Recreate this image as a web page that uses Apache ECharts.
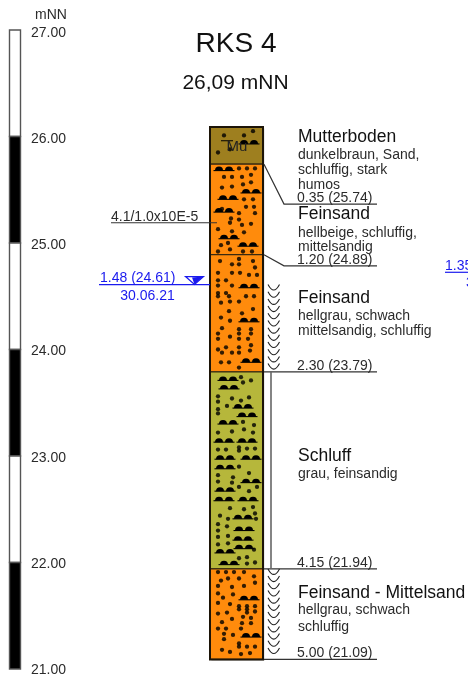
<!DOCTYPE html>
<html><head><meta charset="utf-8">
<style>html,body{margin:0;padding:0;background:#fff}#c{width:468px;height:677px}</style>
<script src="https://cdn.jsdelivr.net/npm/echarts@6/dist/echarts.min.js"></script>
</head><body><div id="c"></div>
<script>
// ---- data ----
const tickMin = 21, tickMax = 27;
const scaleBands = [[27,26,0],[26,25,1],[25,24,0],[24,23,1],[23,22,0],[22,21,1]];
const groundElev = 26.09;
const layerDepths = [0.35,1.20,2.30,4.15,5.00];
const layerElevs = [25.74,24.89,23.79,21.94,21.09];
const layerKinds = ['Mu','S','S','U','S'];
const layerNames = ['Mutterboden','Feinsand','Feinsand','Schluff','Feinsand - Mittelsand'];
const layerDescs = [
 ['dunkelbraun, Sand,','schluffig, stark','humos'],
 ['hellbeige, schluffig,','mittelsandig'],
 ['hellgrau, schwach','mittelsandig, schluffig'],
 ['grau, feinsandig'],
 ['hellgrau, schwach','schluffig']];
const leaderElevs = [25.365,24.785,23.79,21.94,21.09];
const moistZones = [[24.61,23.80],[21.94,21.13]];
const shaftZone = [23.79,21.94];
const waterDepths = ['1.48','1.35'];
const waterElevs = [24.61,24.74];
const waterLineElevs = [24.61,24.725];
const waterDates = ['30.06.21','30.06.21'];
const kfLabel = ['4.1/1.0x10E-5'];
const kfElev = [25.19];
// grain dots: [elevation, [offsets across the column]]
const dotRows = [
[26.05,[43]],[26.01,[14,34]],[25.88,[20]],[25.85,[8]],
[25.70,[29,37,45]],[25.64,[41]],[25.62,[14,22,32]],[25.57,[41]],[25.55,[33]],[25.53,[22]],[25.52,[12]],
[25.41,[34,43]],[25.34,[36,44]],[25.32,[12]],[25.28,[29,45]],[25.23,[21]],[25.22,[29]],[25.19,[20]],[25.18,[41]],[25.17,[32]],
[25.13,[8]],[25.11,[22]],[25.10,[34]],[25.00,[18]],[24.98,[11]],[24.94,[20]],[24.92,[8,33,42]],
[24.85,[29]],[24.83,[10,43]],[24.80,[22,29]],[24.77,[45]],[24.72,[8,22,30]],[24.70,[39,47]],[24.65,[8,16]],[24.60,[8,22]],
[24.53,[8,16]],[24.50,[8,19,36,44]],[24.45,[20,29]],[24.44,[11]],[24.38,[43]],[24.36,[19]],[24.34,[32]],[24.30,[11]],[24.27,[20]],
[24.20,[12]],[24.19,[29,41]],[24.15,[8,29,41]],[24.12,[20]],[24.10,[8,29,38]],[24.04,[41]],[24.02,[16,29]],[24.00,[8]],[23.99,[40]],
[23.97,[12,22,29]],[23.88,[11,19]],[23.83,[29]],
[23.74,[31]],[23.71,[41]],[23.69,[33]],[23.56,[8]],[23.55,[39]],[23.54,[22]],[23.52,[31]],[23.51,[8]],[23.47,[17]],[23.44,[8]],[23.40,[8]],
[23.32,[33]],[23.29,[44]],[23.25,[34]],[23.23,[22]],[23.22,[8,43]],[23.08,[29]],[23.07,[37,45]],[23.06,[8,16]],[23.05,[29]],
[22.90,[29]],[22.84,[39]],[22.82,[8]],[22.80,[23]],[22.76,[8]],[22.75,[22]],[22.71,[29,47]],[22.67,[39]],
[22.52,[43]],[22.51,[20]],[22.50,[34]],[22.46,[45]],[22.44,[10]],[22.41,[18,46]],[22.36,[8]],[22.34,[17]],[22.30,[8]],
[22.25,[18]],[22.24,[8]],[22.18,[18]],[22.17,[8]],[22.12,[44]],[22.05,[37]],[22.04,[29]],[22.00,[45]],[21.99,[37]],
[21.91,[8,16,24,34]],[21.87,[44]],[21.85,[18,29]],[21.83,[11]],[21.81,[45]],[21.78,[8,34]],[21.77,[22]],[21.71,[8]],[21.70,[23]],[21.67,[13]],
[21.62,[8]],[21.61,[20]],[21.59,[29,37,45]],[21.56,[29,37]],[21.54,[45]],[21.53,[17,37]],[21.52,[8]],[21.49,[33]],[21.48,[41]],[21.47,[22]],
[21.44,[12]],[21.43,[32,41]],[21.38,[8,16,31]],[21.33,[14]],[21.32,[23]],[21.28,[14]],[21.24,[29]],[21.21,[29,37,45]],[21.18,[12]],[21.16,[20]],[21.15,[40]],[21.14,[31]]
];
// silt mounds: [offset across the column, elevation]
const mounds = [
[39,25.93],[14,25.68],[41,25.47],[18,25.41],[14,25.29],[19,25.04],[38,24.97],
[39,24.58],[39,24.26],[41,23.88],
[18,23.71],[19,23.63],[33,23.45],[37,23.37],[18,23.30],[37,23.13],[14,23.13],[15,22.97],[41,22.97],[15,22.88],
[41,22.75],[15,22.67],[14,22.58],[38,22.58],[33,22.41],[34,22.30],[33,22.21],[34,22.13],[15,22.09],[19,21.98],
[39,21.65],[41,21.30]];
const bareLines = [[17,25.96]];

// ---- style and layout ----
const FONT = '"Liberation Sans", Arial, sans-serif';
const TOP = 30, PLOT_H = 639;
const COL_W = 53, COL_L = 210;
const fill = {Mu:'#9E7F1F', S:'#FF8B0C', U:'#B6B73B'};
const INK = '#2b2b2b', BLUE = '#1a1aee';
const LEADER_X0 = 264, LEADER_X1 = 284, LABEL_X = 298, LINE_END = 377;
const SMALL = 14;
const titleYs = [137,214,298,456,593];
const descYs = [[155,170,185],[233,247],[316,331],[474],[610,627]];

const dots = [];
dotRows.forEach(r => r[1].forEach(x => dots.push([x, r[0]])));
const layerRows = layerElevs.map((e,i)=>[i===0?groundElev:layerElevs[i-1], e, layerKinds[i]]);

const yAxisBase = {type:'value', min:tickMin, max:tickMax, interval:1, show:false};
const xBase = {type:'value', show:false};

const textEls = [];
const addText = (text,x,y,size,extra) => textEls.push({type:'text',silent:true,x,y,z:50,
  style:Object.assign({text,fontFamily:FONT,fontSize:size,fill:INK,textAlign:'left',verticalAlign:'middle'},extra||{})});
addText('mNN',35,15,SMALL);
layerNames.forEach((n,i)=>{
  addText(n,LABEL_X,titleYs[i],17.5,{fill:'#111'});
  layerDescs[i].forEach((d,j)=>addText(d,LABEL_X,descYs[i][j],SMALL));
});
addText('Mu',237,147,15,{textAlign:'center',fill:'#222'});

const chart = echarts.init(document.getElementById('c'),null,{renderer:'canvas'});
chart.setOption({
 animation:false,
 backgroundColor:'#fff',
 title:[
  {text:'RKS 4',left:236,textAlign:'center',top:30,textStyle:{fontFamily:FONT,fontSize:28,fontWeight:'normal',color:'#111'},padding:0},
  {text:'26,09 mNN',left:235.5,textAlign:'center',top:73,textStyle:{fontFamily:FONT,fontSize:21,fontWeight:'normal',color:'#111'},padding:0}
 ],
 grid:[
  {left:9.5,width:11,top:TOP,height:PLOT_H},
  {left:COL_L,width:COL_W,top:TOP,height:PLOT_H},
  {left:0,width:468,top:TOP,height:PLOT_H},
  {left:9.5,width:11,top:TOP+3,height:PLOT_H}
 ],
 xAxis:[
  Object.assign({gridIndex:0,min:0,max:1},xBase),
  Object.assign({gridIndex:1,min:0,max:COL_W},xBase),
  Object.assign({gridIndex:2,min:0,max:468},xBase),
  Object.assign({gridIndex:3,min:0,max:1},xBase)
 ],
 yAxis:[
  Object.assign({gridIndex:0},yAxisBase),
  Object.assign({gridIndex:1},yAxisBase),
  Object.assign({gridIndex:2},yAxisBase),
  {gridIndex:3,type:'value',position:'right',min:tickMin,max:tickMax,interval:1,
   axisLine:{show:false},axisTick:{show:false},splitLine:{show:false},
   axisLabel:{show:true,margin:10.5,formatter:v=>v.toFixed(2),color:INK,fontFamily:FONT,fontSize:SMALL,align:'left'}}
 ],
 graphic:{elements:textEls},
 series:[
  // depth scale bar
  {type:'custom',xAxisIndex:0,yAxisIndex:0,clip:false,z:2,data:scaleBands,
   encode:{y:[0,1]},
   renderItem(p,api){
    const a=api.coord([0,api.value(0)]),b=api.coord([1,api.value(1)]);
    return {type:'rect',shape:{x:a[0],y:a[1],width:b[0]-a[0],height:b[1]-a[1]},
      style:{fill:api.value(2)?'#000':'#fff',stroke:'#555',lineWidth:1.4}};
   }},
  // soil layers
  {type:'custom',xAxisIndex:1,yAxisIndex:1,clip:false,z:3,data:layerRows,
   dimensions:['top','bottom','kind'],encode:{y:[0,1]},
   renderItem(p,api){
    const i=p.dataIndex, a=api.coord([0,layerRows[i][0]]),b=api.coord([COL_W,layerRows[i][1]]);
    return {type:'group',children:[
      {type:'rect',z2:0,shape:{x:a[0]+1.5,y:a[1]+1.5,width:b[0]-a[0],height:b[1]-a[1]},style:{fill:'#d8d8d8'}},
      {type:'rect',z2:1,shape:{x:a[0],y:a[1],width:b[0]-a[0],height:b[1]-a[1]},
       style:{fill:fill[layerRows[i][2]],stroke:'#3a2a10',lineWidth:1.2}}]};
   }},
  // grain dots
  {type:'scatter',xAxisIndex:1,yAxisIndex:1,clip:false,z:4,data:dots,symbol:'circle',symbolSize:4.3,itemStyle:{color:'#000'}},
  // silt mounds
  {type:'custom',xAxisIndex:1,yAxisIndex:1,clip:false,z:4,data:mounds,encode:{x:0,y:1},
   renderItem(p,api){
    const c=api.coord([api.value(0),api.value(1)]);
    const bump=dx=>({type:'sector',shape:{cx:c[0]+dx,cy:c[1],r:4,r0:0,startAngle:Math.PI,endAngle:2*Math.PI,clockwise:true},style:{fill:'#000'}});
    return {type:'group',children:[
      {type:'line',shape:{x1:c[0]-10.5,y1:c[1],x2:c[0]+10.5,y2:c[1]},style:{stroke:'#000',lineWidth:1.1}},
      bump(-5),bump(5)]};
   }},
  {type:'custom',xAxisIndex:1,yAxisIndex:1,clip:false,z:4,data:bareLines,encode:{x:0,y:1},
   renderItem(p,api){
    const c=api.coord([api.value(0),api.value(1)]);
    return {type:'line',shape:{x1:c[0]-6,y1:c[1],x2:c[0]+6,y2:c[1]},style:{stroke:'#000',lineWidth:1}};
   }},
  // column outline
  {type:'custom',xAxisIndex:1,yAxisIndex:1,clip:false,z:5,data:[[groundElev,layerElevs[layerElevs.length-1]]],encode:{y:[0,1]},
   renderItem(p,api){
    const a=api.coord([0,api.value(0)]),b=api.coord([COL_W,api.value(1)]);
    return {type:'rect',shape:{x:a[0],y:a[1],width:b[0]-a[0],height:b[1]-a[1]},style:{fill:'none',stroke:'#1c1408',lineWidth:2}};
   }},
  // layer leaders and depth labels
  {type:'custom',xAxisIndex:2,yAxisIndex:2,clip:false,z:6,data:layerElevs.map((e,i)=>[e,leaderElevs[i]]),encode:{y:[0,1]},
   renderItem(p,api){
    const i=p.dataIndex, a=api.coord([LEADER_X0,api.value(0)]), b=api.coord([LEADER_X1,api.value(1)]), e=api.coord([LINE_END,api.value(1)]);
    return {type:'group',children:[
      {type:'polyline',shape:{points:[a,b,e]},style:{fill:'none',stroke:'#333',lineWidth:1.2}},
      {type:'text',x:297,y:b[1]-6,style:{text:layerDepths[i].toFixed(2)+' ('+layerElevs[i].toFixed(2)+')',
        fontFamily:FONT,fontSize:SMALL,fill:INK,textAlign:'left',verticalAlign:'middle'}}]};
   }},
  // moisture marks
  {type:'custom',xAxisIndex:2,yAxisIndex:2,clip:false,z:6,data:moistZones,encode:{y:[0,1]},
   renderItem(p,api){
    const a=api.coord([268,api.value(0)]), b=api.coord([279.5,api.value(1)]), n=Math.round((b[1]-a[1])/7.1), kids=[];
    for(let k=0;k<n;k++){const y=a[1]+(b[1]-a[1])*k/n;
      kids.push({type:'bezierCurve',shape:{x1:a[0],y1:y,x2:b[0],y2:y,cpx1:(a[0]+b[0])/2,cpy1:y+11},style:{fill:'none',stroke:'#222',lineWidth:1.1}});}
    return {type:'group',children:kids};
   }},
  // shaft line between the moisture zones
  {type:'custom',xAxisIndex:2,yAxisIndex:2,clip:false,z:6,data:[shaftZone],encode:{y:[0,1]},
   renderItem(p,api){
    const a=api.coord([271,api.value(0)]),b=api.coord([271,api.value(1)]);
    return {type:'line',shape:{x1:a[0],y1:a[1],x2:b[0],y2:b[1]},style:{stroke:'#666',lineWidth:1.6}};
   }},
  // permeability note
  {type:'custom',xAxisIndex:2,yAxisIndex:2,clip:false,z:6,data:kfElev.map(e=>[e]),encode:{y:0},
   renderItem(p,api){
    const a=api.coord([111,api.value(0)]),b=api.coord([217,api.value(0)]);
    return {type:'group',children:[
     {type:'line',shape:{x1:a[0],y1:a[1],x2:b[0],y2:b[1]},style:{stroke:'#333',lineWidth:1.2}},
     {type:'text',x:111,y:a[1]-6,style:{text:kfLabel[p.dataIndex],fontFamily:FONT,fontSize:SMALL,fill:INK,textAlign:'left',verticalAlign:'middle'}}]};
   }},
  // water levels
  {type:'custom',xAxisIndex:2,yAxisIndex:2,clip:true,z:7,data:waterLineElevs.map(e=>[e]),encode:{y:0},
   renderItem(p,api){
    const i=p.dataIndex, y=api.coord([0,api.value(0)])[1];
    const txt=(text,x,yy,align)=>({type:'text',x,y:yy,style:{text,fontFamily:FONT,fontSize:SMALL,fill:BLUE,textAlign:align,verticalAlign:'middle'}});
    if(i===0){
     return {type:'group',children:[
      {type:'line',shape:{x1:99,y1:y,x2:210,y2:y},style:{stroke:BLUE,lineWidth:1.2}},
      txt(waterDepths[i]+' ('+waterElevs[i].toFixed(2)+')',100,y-6.5,'left'),
      txt(waterDates[i],147.5,y+11.5,'center'),
      {type:'polygon',shape:{points:[[185.5,y-8],[203.5,y-8],[194.5,y]]},style:{fill:'none',stroke:BLUE,lineWidth:1.2}},
      {type:'polygon',shape:{points:[[192,y-7],[203,y-8],[194.5,y]]},style:{fill:BLUE}}]};
    }
    return {type:'group',children:[
      {type:'line',shape:{x1:445,y1:y,x2:468,y2:y},style:{stroke:BLUE,lineWidth:1.2}},
      txt(waterDepths[i]+' ('+waterElevs[i].toFixed(2)+')',445,y-6.5,'left'),
      txt(waterDates[i],466,y+11,'left')]};
   }}
 ]
});
</script></body></html>
